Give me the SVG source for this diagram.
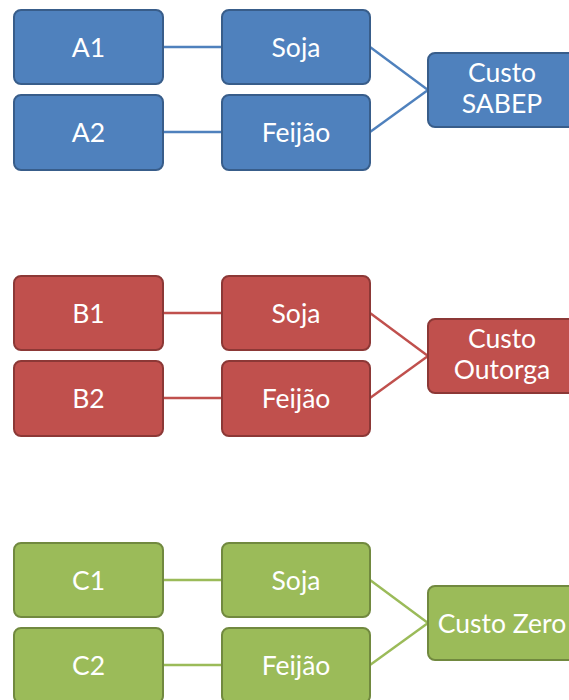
<svg xmlns="http://www.w3.org/2000/svg" width="569" height="700" viewBox="0 0 569 700">
<style>
text{font-family:Lato,"Open Sans","Liberation Sans",sans-serif;font-size:26.5px;fill:#ffffff;text-anchor:middle}
.a rect{fill:#4F81BD;stroke:#385D8A;stroke-width:2}
.b rect{fill:#C0504D;stroke:#8C3836;stroke-width:2}
.c rect{fill:#9BBB59;stroke:#71893F;stroke-width:2}
.la{stroke:#4F81BD;stroke-width:2.4;fill:none}
.lb{stroke:#C0504D;stroke-width:2.4;fill:none}
.lc{stroke:#9BBB59;stroke-width:2.4;fill:none}
</style>
<rect width="569" height="700" fill="#ffffff"/>
<g id="connectors">
<g class="la">
<line x1="163" y1="47" x2="222" y2="47"/>
<line x1="163" y1="132" x2="222" y2="132"/>
<line x1="370" y1="47" x2="428" y2="90"/>
<line x1="370" y1="132" x2="428" y2="90"/>
</g>
<g class="lb">
<line x1="163" y1="313" x2="222" y2="313"/>
<line x1="163" y1="398" x2="222" y2="398"/>
<line x1="370" y1="313" x2="428" y2="356"/>
<line x1="370" y1="398" x2="428" y2="356"/>
</g>
<g class="lc">
<line x1="163" y1="580" x2="222" y2="580"/>
<line x1="163" y1="665" x2="222" y2="665"/>
<line x1="370" y1="580" x2="428" y2="623"/>
<line x1="370" y1="665" x2="428" y2="623"/>
</g>
</g>
<g class="a">
<g id="A1"><rect x="14" y="10" width="149" height="74" rx="7"/><text x="88.5" y="56.5">A1</text></g>
<g id="A2"><rect x="14" y="95" width="149" height="75" rx="7"/><text x="88.5" y="141.5">A2</text></g>
<g id="sojaA"><rect x="222" y="10" width="148" height="74" rx="7"/><text x="296" y="56.5">Soja</text></g>
<g id="feijaoA"><rect x="222" y="95" width="148" height="75" rx="7"/><text x="296" y="141.5">Feijão</text></g>
<g id="custoSABEP"><rect x="428" y="53" width="149" height="74" rx="7"/><text x="502" y="82">Custo</text><text x="502" y="113">SABEP</text></g>
</g>
<g class="b">
<g id="B1"><rect x="14" y="276" width="149" height="74" rx="7"/><text x="88.5" y="322.5">B1</text></g>
<g id="B2"><rect x="14" y="361" width="149" height="75" rx="7"/><text x="88.5" y="407.5">B2</text></g>
<g id="sojaB"><rect x="222" y="276" width="148" height="74" rx="7"/><text x="296" y="322.5">Soja</text></g>
<g id="feijaoB"><rect x="222" y="361" width="148" height="75" rx="7"/><text x="296" y="407.5">Feijão</text></g>
<g id="custoOutorga"><rect x="428" y="319" width="149" height="74" rx="7"/><text x="502" y="348">Custo</text><text x="502" y="379">Outorga</text></g>
</g>
<g class="c">
<g id="C1"><rect x="14" y="543" width="149" height="74" rx="7"/><text x="88.5" y="589.5">C1</text></g>
<g id="C2"><rect x="14" y="628" width="149" height="75" rx="7"/><text x="88.5" y="674.5">C2</text></g>
<g id="sojaC"><rect x="222" y="543" width="148" height="74" rx="7"/><text x="296" y="589.5">Soja</text></g>
<g id="feijaoC"><rect x="222" y="628" width="148" height="75" rx="7"/><text x="296" y="674.5">Feijão</text></g>
<g id="custoZero"><rect x="428" y="586" width="149" height="74" rx="7"/><text x="502" y="632.5">Custo Zero</text></g>
</g>
</svg>
